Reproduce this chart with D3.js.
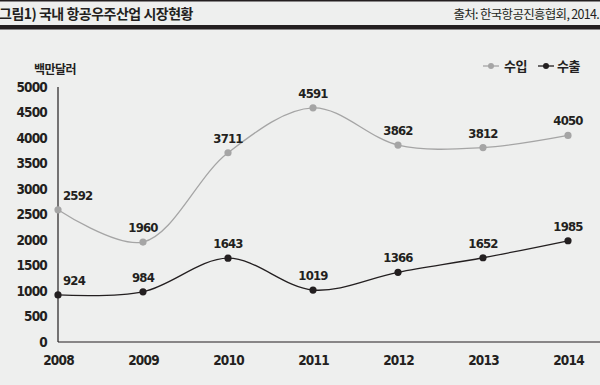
<!DOCTYPE html>
<html><head><meta charset="utf-8">
<script src="https://cdn.jsdelivr.net/npm/d3@7/dist/d3.min.js"></script>
<style>
html,body{margin:0;padding:0;background:#eeefee;}
svg{display:block;}
</style></head>
<body>
<script>
const years = ["2008","2009","2010","2011","2012","2013","2014"];
const importValues = [2592,1960,3711,4591,3862,3812,4050];
const exportValues = [924,984,1643,1019,1366,1652,1985];
const yTicks = [0,500,1000,1500,2000,2500,3000,3500,4000,4500,5000];
const seriesNames = ["수입","수출"];
const title = "그림1) 국내 항공우주산업 시장현황";
const source = "출처: 한국항공진흥협회, 2014.";
const unitLabel = "백만달러";

const W=600,H=385;
const numFont = "'DejaVu Sans Condensed','Liberation Sans Narrow','Arial Narrow',sans-serif";
const krFont = "'Noto Sans CJK KR','Noto Sans',sans-serif";
const svg = d3.select("body").append("svg").attr("width",W).attr("height",H);
svg.append("rect").attr("width",W).attr("height",H).attr("fill","#eeefee");

// header
svg.append("rect").attr("x",0).attr("y",0).attr("width",W).attr("height",1.5).attr("fill","#231f20");
svg.append("rect").attr("x",0).attr("y",25).attr("width",W).attr("height",4.5).attr("fill","#231f20");
svg.append("text").attr("x",-1).attr("y",19).attr("font-family",krFont).attr("font-weight","bold")
  .attr("font-size",14).attr("fill","#231f20").attr("letter-spacing","-0.5").text(title);
svg.append("text").attr("x",599).attr("y",19).attr("text-anchor","end").attr("font-family",krFont)
  .attr("font-size",12.5).attr("fill","#231f20").attr("letter-spacing","-0.7").text(source);

const x = d3.scalePoint().domain(years).range([58,568]);
const y = d3.scaleLinear().domain([0,5000]).range([342,87]);

function numStyle(sel,size){
  sel.attr("font-family",numFont).attr("font-weight","bold").attr("font-size",size)
     .attr("font-stretch","condensed").attr("fill","#231f20").attr("letter-spacing","-0.8");
}

// axes
const yAxis = d3.axisLeft(y).tickValues(yTicks).tickFormat(d3.format("d")).tickSize(0).tickPadding(11);
const gy = svg.append("g").attr("transform","translate(58,0)").call(yAxis);
gy.select(".domain").remove();
numStyle(gy.selectAll("text"),13.5);
svg.append("line").attr("x1",58).attr("x2",58).attr("y1",y(5000)).attr("y2",y(0)).attr("stroke","#231f20").attr("stroke-width",1.2);
svg.append("line").attr("x1",58).attr("x2",600).attr("y1",y(0)).attr("y2",y(0)).attr("stroke","#231f20").attr("stroke-width",1.2);

const xAxis = d3.axisBottom(x).tickSize(0).tickPadding(13);
const gx = svg.append("g").attr("transform",`translate(0,${y(0)})`).call(xAxis);
gx.select(".domain").remove();
numStyle(gx.selectAll("text"),13.5);

svg.append("text").attr("x",55).attr("y",74).attr("text-anchor","middle").attr("font-family",krFont)
  .attr("font-weight","bold").attr("font-size",12).attr("fill","#231f20").attr("letter-spacing","-0.5").text(unitLabel);

const series = [
  {name:seriesNames[0], values:importValues, color:"#a5a5a5"},
  {name:seriesNames[1], values:exportValues, color:"#231f20"}
];
const line = d3.line().x((d,i)=>x(years[i])).y(d=>y(d)).curve(d3.curveCatmullRom.alpha(0.5));

series.forEach(s=>{
  svg.append("path").datum(s.values).attr("d",line).attr("fill","none").attr("stroke",s.color).attr("stroke-width",1.3);
  svg.selectAll(null).data(s.values).enter().append("circle")
    .attr("cx",(d,i)=>x(years[i])).attr("cy",d=>y(d)).attr("r",3.6).attr("fill",s.color);
  const t = svg.selectAll(null).data(s.values).enter().append("text")
    .attr("x",(d,i)=> i===0 ? x(years[i])+5 : x(years[i]))
    .attr("y",d=>y(d)-10)
    .attr("text-anchor",(d,i)=> i===0 ? "start":"middle")
    .text(d=>d);
  numStyle(t,13);
});

// legend
const leg = [{x0:483,tx:504},{x0:538,tx:557}];
series.forEach((s,i)=>{
  const g = svg.append("g");
  g.append("line").attr("x1",leg[i].x0).attr("x2",leg[i].x0+16).attr("y1",66).attr("y2",66).attr("stroke",s.color).attr("stroke-width",1.3);
  g.append("circle").attr("cx",leg[i].x0+8).attr("cy",66).attr("r",3).attr("fill",s.color);
  g.append("text").attr("x",leg[i].tx).attr("y",71).attr("font-family",krFont).attr("font-weight","bold")
    .attr("font-size",13).attr("fill","#231f20").attr("letter-spacing","-0.5").text(s.name);
});
</script>
</body></html>
